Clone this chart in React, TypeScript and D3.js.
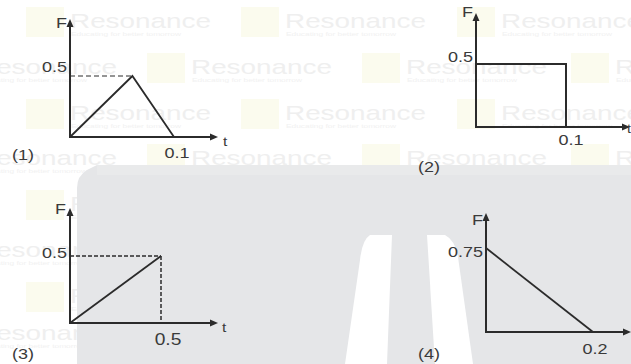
import React from "react";
import * as d3 from "d3";

// ---- data ----
const panelNames = ["(1)", "(2)", "(3)", "(4)"];
const p1T = [0, 0.06, 0.1];
const p1F = [0, 0.5, 0];
const p2T = [0, 0, 0.1, 0.1];
const p2F = [0, 0.5, 0.5, 0];
const p3T = [0, 0.5];
const p3F = [0, 0.5];
const p4T = [0, 0.2];
const p4F = [0.75, 0];
const p1Ticks = { t: "0.1", f: "0.5" };
const p2Ticks = { t: "0.1", f: "0.5" };
const p3Ticks = { t: "0.5", f: "0.5" };
const p4Ticks = { t: "0.2", f: "0.75" };
const watermarkText = "Resonance";
const watermarkSub = "Educating for better tomorrow";

const INK = "#2b2b2b";
const TXT = "#3a3a3a";
const FONT = "'Liberation Sans', Arial, sans-serif";

function Label({ x, y, text, anchor = "start", size = 15 }: any) {
  return (
    <text
      transform={`translate(${x},${y}) scale(1.2,1)`}
      textAnchor={anchor}
      fontFamily={FONT}
      fontSize={size}
      fill={TXT}
    >
      {text}
    </text>
  );
}

function Axes({ x0, y0, xTip, yTip }: any) {
  const a = 8, w = 3.5;
  return (
    <g>
      <line x1={x0} y1={y0} x2={xTip - a + 1} y2={y0} stroke={INK} strokeWidth={2} />
      <line x1={x0} y1={y0 + 1} x2={x0} y2={yTip + a - 1} stroke={INK} strokeWidth={2} />
      <path d={`M${xTip},${y0} L${xTip - a},${y0 - w} L${xTip - a},${y0 + w} Z`} fill={INK} />
      <path d={`M${x0},${yTip} L${x0 - w},${yTip + a} L${x0 + w},${yTip + a} Z`} fill={INK} />
    </g>
  );
}

function Watermarks() {
  const A = [26, 241, 457];
  const B = [-68, 147, 362, 571];
  const rows = [
    { b: 28, xs: A },
    { b: 74, xs: B },
    { b: 120, xs: A },
    { b: 165, xs: B },
    { b: 211, xs: [26] },
    { b: 257, xs: [-68] },
    { b: 303, xs: [26] },
    { b: 340, xs: [-68] },
  ];
  return (
    <g>
      {rows.map((r, i) =>
        r.xs.map((x, j) => (
          <g key={`${i}-${j}`}>
            <rect x={x} y={r.b - 21} width={38} height={30} fill="#fbfbee" />
            <text
              x={x + 44}
              y={r.b}
              fontFamily={FONT}
              fontSize={21}
              textLength={141}
              lengthAdjust="spacingAndGlyphs"
              fill="#efefef"
            >
              {watermarkText}
            </text>
            <text
              x={x + 45}
              y={r.b + 8}
              fontFamily={FONT}
              fontSize={6}
              textLength={110}
              lengthAdjust="spacingAndGlyphs"
              fill="#f1f1f1"
            >
              {watermarkSub}
            </text>
          </g>
        ))
      )}
    </g>
  );
}

export default function App() {
  const x1 = d3.scaleLinear().domain([0, 0.1]).range([70, 174]);
  const y1 = d3.scaleLinear().domain([0, 0.5]).range([137, 76]);
  const x2 = d3.scaleLinear().domain([0, 0.1]).range([476, 566]);
  const y2 = d3.scaleLinear().domain([0, 0.5]).range([127, 64]);
  const x3 = d3.scaleLinear().domain([0, 0.5]).range([70, 161]);
  const y3 = d3.scaleLinear().domain([0, 0.5]).range([323, 256]);
  const x4 = d3.scaleLinear().domain([0, 0.2]).range([486, 593]);
  const y4 = d3.scaleLinear().domain([0, 0.75]).range([332, 248]);

  const mk = (xs: any, ys: any, T: number[], F: number[]) =>
    d3.line<number>().x((_, i) => xs(T[i])).y((_, i) => ys(F[i]))(T.map((_, i) => i)) || "";

  const peak1 = p1F.indexOf(d3.max(p1F) as number);

  return (
    <svg width={631} height={364} style={{ position: "absolute", left: 0, top: 0, background: "#fff" }}>
      <Watermarks />
      {/* grey background shape */}
      <path d="M97,165 L631,165 L631,364 L77,364 L77,188 Q77,176 87,170 Z" fill="#e5e6e8" />
      <rect x={97} y={165} width={534} height={10} fill="#e9eaeb" />
      {/* white strips */}
      <path d="M370,235 L392,235 L387,364 L345,364 L360,260 Q362,240 370,235 Z" fill="#fff" />
      <path d="M427,235 L445,235 Q455,240 458,257 L473,364 L435,364 Z" fill="#fff" />

      {/* panel 1 */}
      <line x1={x1(0)} y1={y1(0.5)} x2={x1(p1T[peak1])} y2={y1(0.5)} stroke={INK} strokeWidth={1} strokeDasharray="5,3" />
      <path d={mk(x1, y1, p1T, p1F)} fill="none" stroke={INK} strokeWidth={1.8} />
      <Axes x0={x1(0)} y0={y1(0)} xTip={218} yTip={19} />
      <Label x={67} y={28} text="F" anchor="end" />
      <Label x={67} y={72} text={p1Ticks.f} anchor="end" />
      <Label x={177} y={158} text={p1Ticks.t} anchor="middle" />
      <Label x={223} y={146} text="t" size={13} />
      <Label x={12} y={160} text={panelNames[0]} />

      {/* panel 2 */}
      <path d={mk(x2, y2, p2T, p2F)} fill="none" stroke={INK} strokeWidth={2} />
      <Axes x0={x2(0)} y0={y2(0)} xTip={630} yTip={13} />
      <Label x={473} y={17} text="F" anchor="end" />
      <Label x={473} y={62} text={p2Ticks.f} anchor="end" />
      <Label x={571} y={145} text={p2Ticks.t} anchor="middle" />
      <Label x={627} y={133} text="t" size={12} />
      <Label x={418} y={172} text={panelNames[1]} />

      {/* panel 3 */}
      <line x1={x3(0)} y1={y3(0.5)} x2={x3(0.5)} y2={y3(0.5)} stroke={INK} strokeWidth={1.5} strokeDasharray="4,2" />
      <line x1={x3(0.5)} y1={y3(0.5)} x2={x3(0.5)} y2={y3(0)} stroke={INK} strokeWidth={1.5} strokeDasharray="4,2" />
      <path d={mk(x3, y3, p3T, p3F)} fill="none" stroke={INK} strokeWidth={1.8} />
      <Axes x0={x3(0)} y0={y3(0)} xTip={218} yTip={208} />
      <Label x={66} y={214} text="F" anchor="end" />
      <Label x={67} y={258} text={p3Ticks.f} anchor="end" />
      <Label x={168} y={345} text={p3Ticks.t} anchor="middle" size={16} />
      <Label x={222} y={332} text="t" size={13} />
      <Label x={12} y={359} text={panelNames[2]} />

      {/* panel 4 */}
      <path d={mk(x4, y4, p4T, p4F)} fill="none" stroke={INK} strokeWidth={1.8} />
      <Axes x0={x4(0)} y0={y4(0)} xTip={631} yTip={213} />
      <Label x={483} y={225} text="F" anchor="end" />
      <Label x={483} y={257} text={p4Ticks.f} anchor="end" />
      <Label x={595} y={354} text={p4Ticks.t} anchor="middle" />
      <Label x={418} y={359} text={panelNames[3]} />
    </svg>
  );
}
